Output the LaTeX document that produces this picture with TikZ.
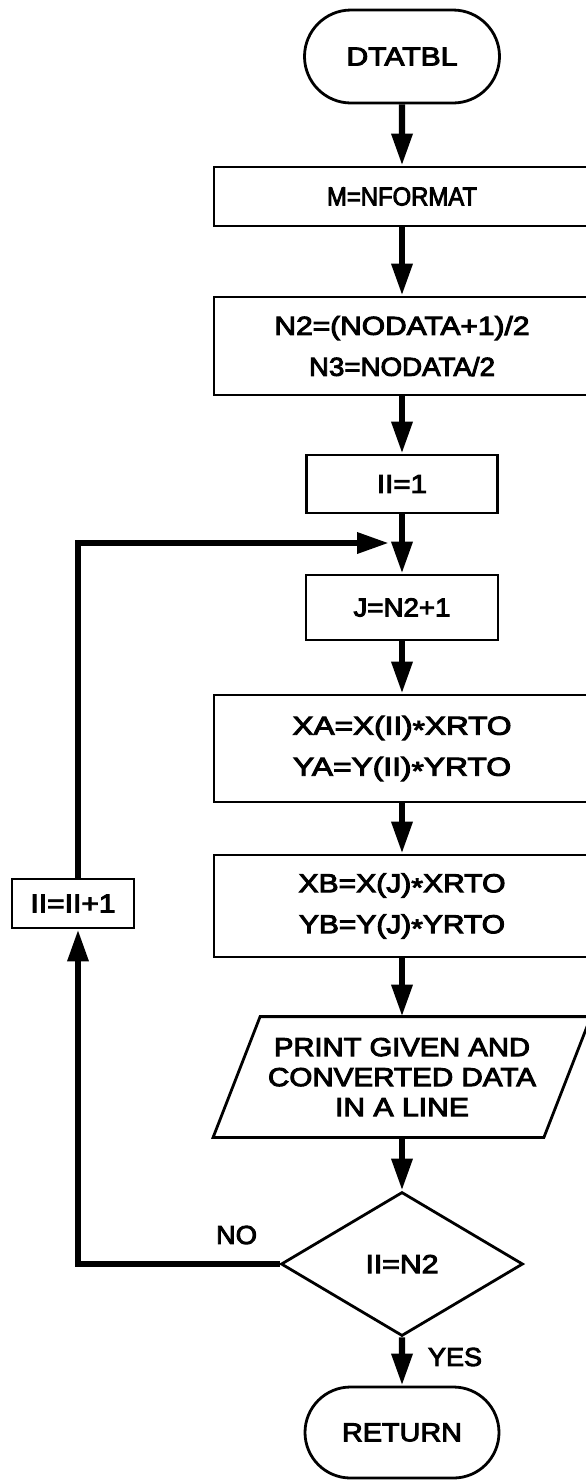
\documentclass[tikz,border=0pt]{standalone}
\usepackage{fontspec}
\usepackage{graphicx}
\usetikzlibrary{shapes.geometric,shapes.misc,arrows.meta}
\newfontfamily\lab[FakeBold=3.5]{Liberation Sans}
\newcommand{\fitw}[2]{\resizebox{#1}{\height}{#2}}
\newcommand{\mystar}{\raisebox{-0.3ex}{*}}
\begin{document}
\begin{tikzpicture}[x=0.5pt,y=-0.5pt,
  every node/.style={font=\lab\fontsize{13}{20.5}\selectfont, inner sep=0pt, align=center},
  proc/.style={draw, line width=1.4pt, rectangle},
  term/.style={draw, line width=1.4pt, rounded rectangle},
  decis/.style={draw, line width=1.4pt, diamond},
  flow/.style={line width=3.2pt, -{Triangle[length=16pt,width=10pt]}}
]
\useasboundingbox (0,0) rectangle (585,1480);
\node[term, minimum width=97.5pt, minimum height=46.5pt] (start) at (402,56.5) {\fitw{55.5pt}{DTATBL}};
\node[proc, minimum width=188pt, minimum height=29.5pt] (m) at (402,196.5) {\fitw{75pt}{M=NFORMAT}};
\node[proc, minimum width=188pt, minimum height=49pt] (n2) at (402,346) {\fitw{127.5pt}{N2=(NODATA+1)/2}\\\fitw{93pt}{N3=NODATA/2}};
\node[proc, minimum width=95.5pt, minimum height=29pt] (ii1) at (402,484) {\fitw{25pt}{II=1}};
\node[proc, minimum width=96pt, minimum height=32.5pt] (j) at (402,607.5) {\fitw{48.5pt}{J=N2+1}};
\node[proc, minimum width=188pt, minimum height=53.5pt] (xa) at (402,748.5) {\fitw{109.5pt}{XA=X(II)\mystar XRTO}\\\fitw{109pt}{YA=Y(II)\mystar YRTO}};
\node[proc, minimum width=188pt, minimum height=51pt] (xb) at (402,906) {\fitw{103.5pt}{XB=X(J)\mystar XRTO}\\\fitw{103pt}{YB=Y(J)\mystar YRTO}};
\node[minimum width=165pt, minimum height=60pt, font=\lab\fontsize{13}{15}\selectfont] (print) at (402,1077) {\fitw{128pt}{PRINT GIVEN AND}\\\fitw{134pt}{CONVERTED DATA}\\\fitw{67pt}{IN A LINE}};
\draw[line width=1.4pt] ([xshift=11.75pt]print.north west) -- ([xshift=11.75pt]print.north east) -- ([xshift=-11.75pt]print.south east) -- ([xshift=-11.75pt]print.south west) -- cycle;
\node[decis, minimum width=121pt, minimum height=72pt] (dia) at (402,1264) {\fitw{36.5pt}{II=N2}};
\node[term, minimum width=97pt, minimum height=45.5pt] (ret) at (402,1432.5) {\fitw{60pt}{RETURN}};
\node[proc, minimum width=61pt, minimum height=24.5pt] (inc) at (73,903.5) {\fitw{42.5pt}{II=II+1}};
\node (no) at (236.5,1235) {\fitw{20.5pt}{NO}};
\node (yes) at (455,1357) {\fitw{27pt}{YES}};
\coordinate (loopend) at (389,543);
\draw[flow] (start) -- (m);
\draw[flow] (m) -- (n2);
\draw[flow] (n2) -- (ii1);
\draw[flow] (ii1) -- (j);
\draw[flow] (j) -- (xa);
\draw[flow] (xa) -- (xb);
\draw[flow] (xb) -- (print);
\draw[flow] (print) -- (dia);
\draw[flow] (dia) -- (ret);
\draw[flow] (dia.west) -| ([xshift=2.5pt]inc.south);
\draw[flow] ([xshift=2.5pt]inc.north) |- (loopend);
\end{tikzpicture}
\end{document}
